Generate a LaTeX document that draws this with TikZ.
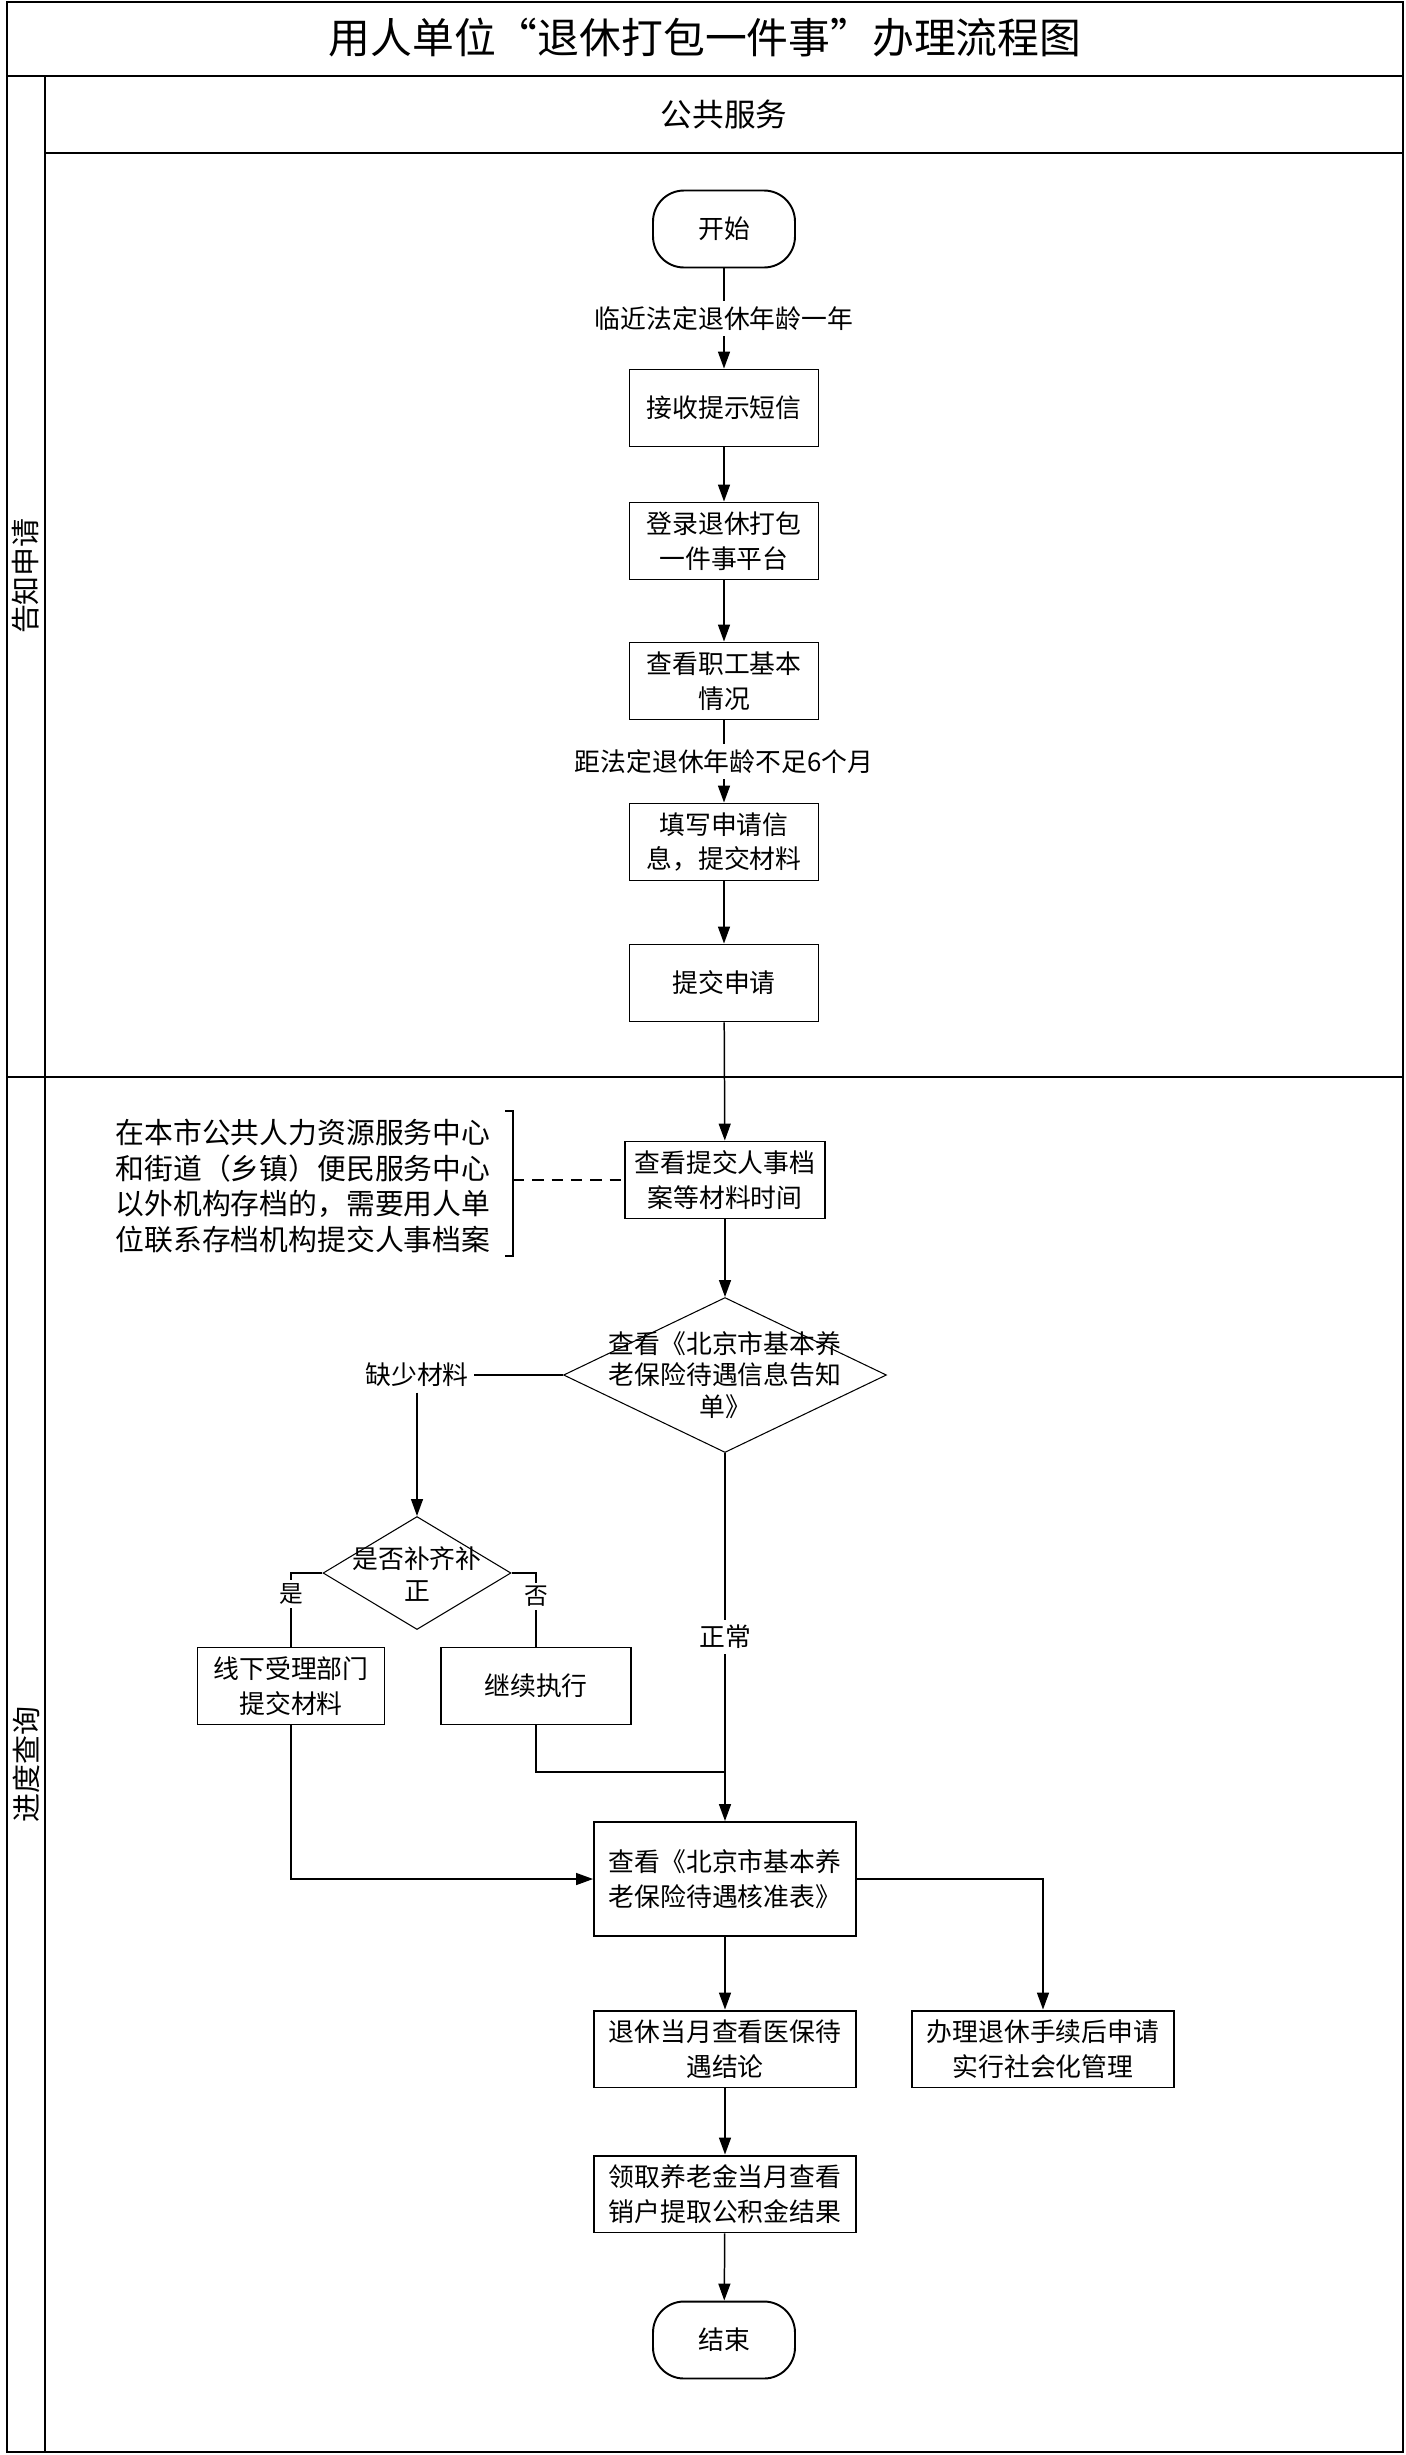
\documentclass[tikz,border=0pt]{standalone}
\usepackage{fontspec}
\setmainfont{Noto Sans CJK SC}
\usetikzlibrary{arrows.meta,shapes.geometric}

\begin{document}
\begin{tikzpicture}[x=0.02cm,y=-0.02cm,
    >={Triangle[length=0.34cm,width=0.24cm]},
    flow/.style={line width=0.85pt},
    frame/.style={line width=1.6pt},
    stepbox/.style={draw,line width=1.1pt,minimum width=3.78cm,minimum height=1.54cm,align=center,inner sep=2pt,font=\fontsize{14.7}{19.8}\selectfont},
    terminal/.style={stepbox,rounded corners=0.62cm,minimum width=2.84cm},
    decision/.style={diamond,draw,line width=0.6pt,inner sep=0pt},
    tag/.style={fill=white,inner sep=3pt,font=\fontsize{14.7}{19.8}\selectfont},
    answer/.style={fill=white,inner sep=2pt,font=\fontsize{13.5}{16}\selectfont},
    lane/.style={rotate=90,font=\fontsize{16.5}{20}\selectfont}]

      \useasboundingbox (0,0) rectangle (1406,2455);

      % swimlane frame
      \draw[frame] (7,2) rectangle (1403,2452);
      \draw[frame] (7,76) -- (1403,76);
      \draw[frame] (45,153) -- (1403,153);
      \draw[frame] (7,1077) -- (1403,1077);
      \draw[line width=1pt] (45,76) -- (45,2452);

      \path (705,38) node[font=\fontsize{23.8}{28}\selectfont](title){用人单位“退休打包一件事”办理流程图};
      \path (724,114) node[font=\fontsize{18}{22}\selectfont](pool){公共服务};
      \path (26,576) node[lane](lane_tell){告知申请};
      \path (26,1764) node[lane](lane_query){进度查询};

      \path (724,229) node[terminal](start){开始};
      \path (724,408) node[stepbox](sms){接收提示短信};
      \path (724,541) node[stepbox](login){登录退休打包\\一件事平台};
      \path (724,681) node[stepbox](staff){查看职工基本\\情况};
      \path (724,842) node[stepbox](form){填写申请信\\息，提交材料};
      \path (724,983) node[stepbox](submit){提交申请};

      \path (725,1180) node[stepbox,minimum width=4cm](archive){查看提交人事档\\案等材料时间};
      \path (303,1186) node[align=center,font=\fontsize{16.4}{20.2}\selectfont](note){在本市公共人力资源服务中心\\和街道（乡镇）便民服务中心\\以外机构存档的，需要用人单\\位联系存档机构提交人事档案};
      \draw[line width=1pt] (505,1111) -- (513,1111) -- (513,1256) -- (505,1256);
      \coordinate (note_tip) at (513,1180);

      \path (725,1375) node[decision,minimum width=6.46cm,minimum height=3.1cm](notice){};
      \path (notice) node[align=center,font=\fontsize{14.7}{18}\selectfont](notice_text){查看《北京市基本养\\老保险待遇信息告知\\单》};
      \path (417,1375) node[tag](lack){缺少材料};
      \path (417,1573) node[decision,minimum width=3.76cm,minimum height=2.26cm](fix){};
      \path (417,1574) node[align=center,font=\fontsize{14.7}{18}\selectfont](fix_text){是否补齐补\\正};
      \path (291,1686) node[stepbox,minimum width=3.74cm](offline){线下受理部门\\提交材料};
      \path (536,1686) node[stepbox,minimum width=3.8cm](goon){继续执行};
      \coordinate (merge) at (725,1772);

      \path (725,1879) node[stepbox,minimum width=5.24cm,minimum height=2.28cm](approve){查看《北京市基本养\\老保险待遇核准表》};
      \path (725,2049) node[stepbox,minimum width=5.24cm](medical){退休当月查看医保待\\遇结论};
      \path (1043,2049) node[stepbox,minimum width=5.24cm](social){办理退休手续后申请\\实行社会化管理};
      \path (725,2194) node[stepbox,minimum width=5.24cm](fund){领取养老金当月查看\\销户提取公积金结果};
      \path (724,2340) node[terminal](finish){结束};

      \draw[flow,->] (start) -- node[tag]{临近法定退休年龄一年} (sms);
      \draw[flow,->] (sms) -- (login);
      \draw[flow,->] (login) -- (staff);
      \draw[flow,->] (staff) -- node[tag]{距法定退休年龄不足6个月} (form);
      \draw[flow,->] (form) -- (submit);
      \draw[flow,->] (submit) -- (archive);
      \draw[flow,dash pattern=on 6.5pt off 4.5pt] (note_tip) -- (archive);
      \draw[flow,->] (archive) -- (notice);
      \draw[flow] (notice.west) -- (lack.east);
      \draw[flow,->] (lack) -- (fix);
      \draw[flow] (fix.west) -| node[answer,pos=0.64]{是} (offline.north);
      \draw[flow] (fix.east) -| node[answer,pos=0.66]{否} (goon.north);
      \draw[flow,->] (notice) -- node[tag]{正常} (approve);
      \draw[flow] (goon) |- (merge);
      \draw[flow,->] (offline) |- (approve);
      \draw[flow,->] (approve) -| (social);
      \draw[flow,->] (approve) -- (medical);
      \draw[flow,->] (medical) -- (fund);
      \draw[flow,->] (fund) -- (finish);

    \end{tikzpicture}
\end{document}
